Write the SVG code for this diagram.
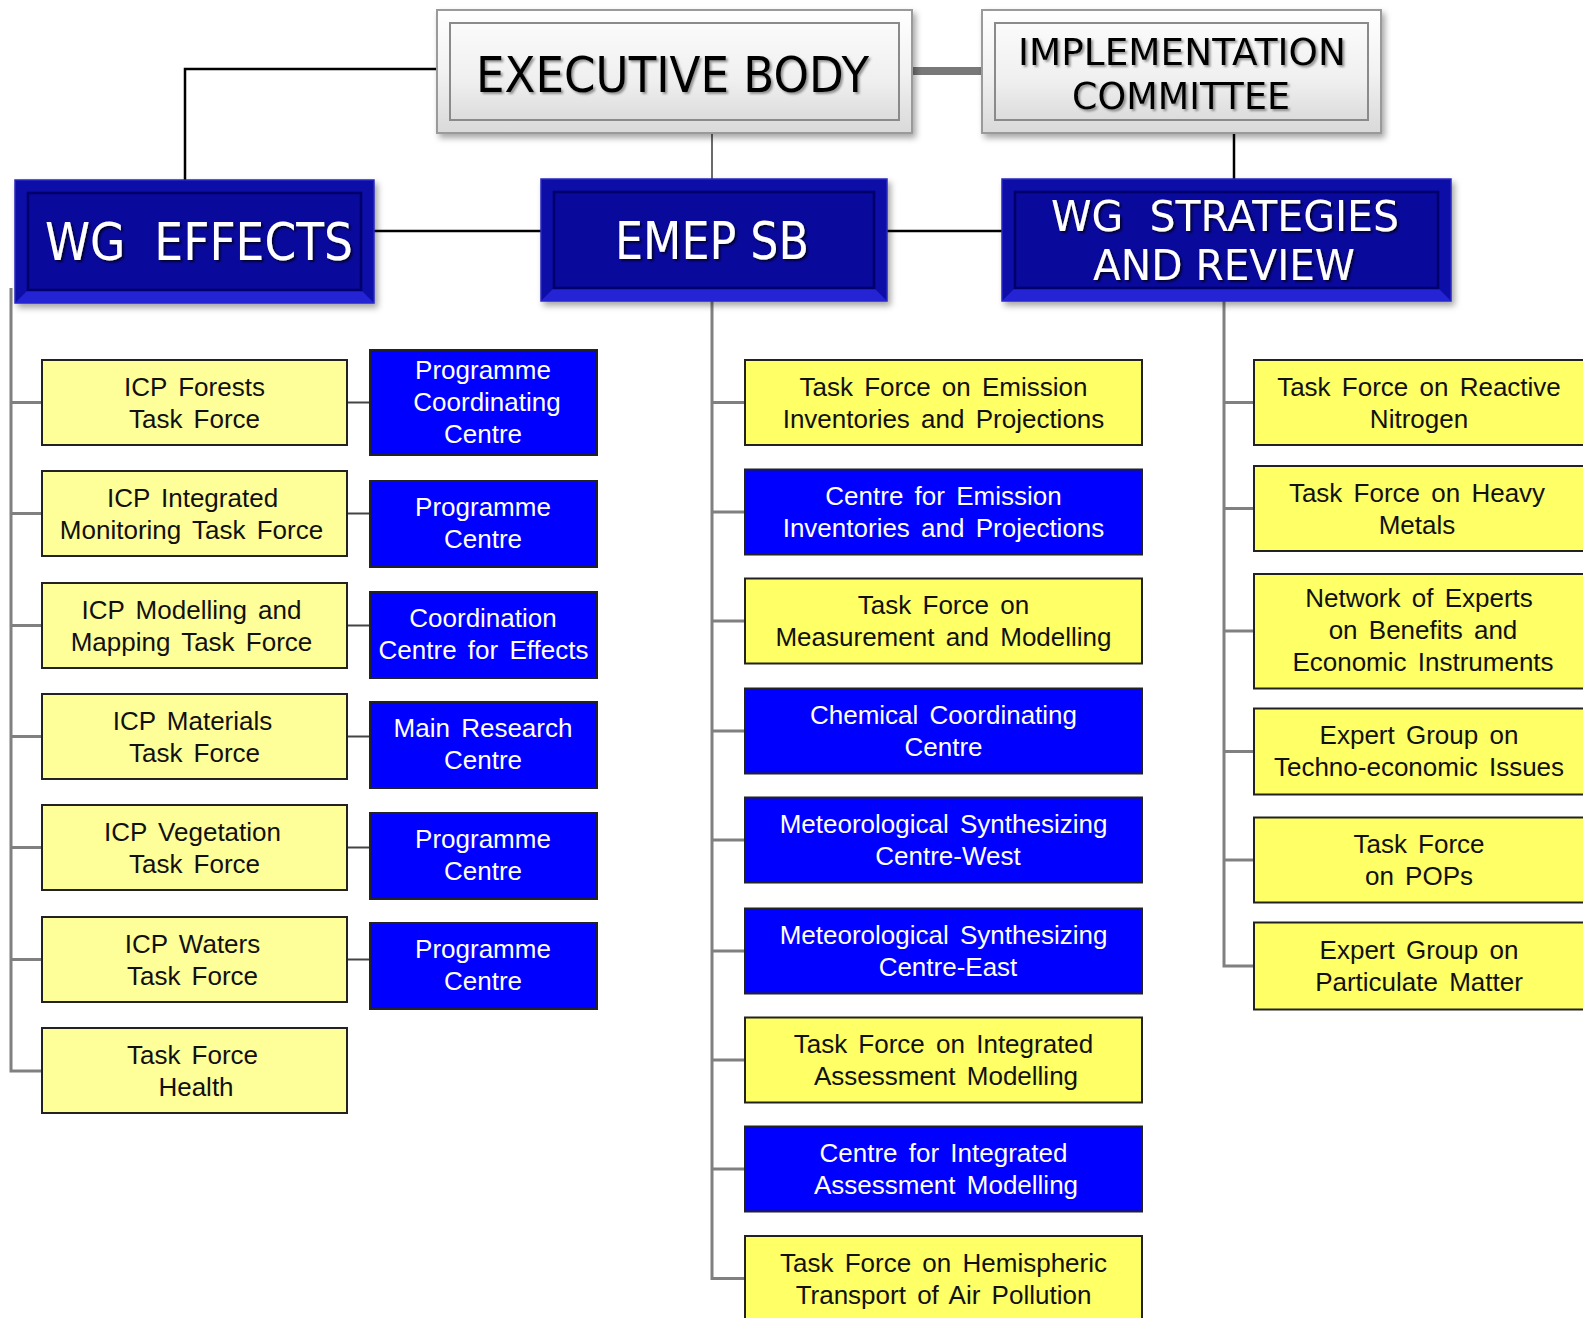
<svg xmlns="http://www.w3.org/2000/svg" width="1583" height="1318" viewBox="0 0 1583 1318">
<defs>
<linearGradient id="gGray" x1="0" y1="0" x2="0" y2="1">
<stop offset="0" stop-color="#ffffff"/><stop offset="0.5" stop-color="#f2f2f2"/><stop offset="1" stop-color="#d9d9d9"/>
</linearGradient>
<linearGradient id="gGrayIn" x1="0" y1="0" x2="0" y2="1">
<stop offset="0" stop-color="#fbfbfb"/><stop offset="0.6" stop-color="#efefef"/><stop offset="1" stop-color="#dcdcdc"/>
</linearGradient>
<filter id="shadow" x="-10%" y="-10%" width="125%" height="130%">
<feDropShadow dx="3" dy="4" stdDeviation="3" flood-color="#000" flood-opacity="0.35"/>
</filter>
<filter id="tshadowW" x="-5%" y="-20%" width="115%" height="150%">
<feDropShadow dx="2" dy="2" stdDeviation="1" flood-color="#000" flood-opacity="0.7"/>
</filter>
<filter id="tshadowB" x="-5%" y="-20%" width="115%" height="150%">
<feDropShadow dx="2" dy="2" stdDeviation="1.2" flood-color="#555" flood-opacity="0.6"/>
</filter>
</defs>
<style>
.t{font-family:"Liberation Sans",Arial,sans-serif;font-size:26px;text-anchor:middle;word-spacing:4px}
.dk{fill:#111}
.wh{fill:#fff}
.h{font-family:"DejaVu Sans",Verdana,sans-serif;}
.hw{fill:#fff;filter:url(#tshadowW)}
.hb{fill:#000;filter:url(#tshadowB)}
.y1{fill:#ffff99;stroke:#222;stroke-width:2}
.y2{fill:#ffff66;stroke:#222;stroke-width:2}
.b{fill:#0000ff;stroke:#222;stroke-width:2}
.navyO{fill:#0d0da8;stroke:#2a2ac0;stroke-width:1.5}
.navyBot{fill:#2424d4}
.navyI{fill:#09099c;stroke:#00006a;stroke-width:2.5}
.grayO{fill:url(#gGray);stroke:#9a9a9a;stroke-width:2}
.grayI{fill:url(#gGrayIn);stroke:#8a8a8a;stroke-width:2}
.cb{fill:none;stroke:#000;stroke-width:2.5}
.cg{fill:none;stroke:#808080;stroke-width:3}
.cd{fill:none;stroke:#444;stroke-width:2}
</style>

<g id="connectors">
<polyline class="cb" points="437,69 185,69 185,180"/>
<line x1="912" y1="71" x2="982" y2="71" stroke="#787878" stroke-width="8"/>
<line x1="712" y1="133" x2="712" y2="179" stroke="#6a6a6a" stroke-width="2"/>
<line class="cb" x1="1234" y1="133" x2="1234" y2="179"/>
<line class="cb" x1="374" y1="231" x2="541" y2="231"/>
<line class="cb" x1="887" y1="231" x2="1002" y2="231"/>
<polyline class="cg" points="11,288 11,1071 42,1071"/>
<line class="cg" x1="11" y1="402.5" x2="42" y2="402.5"/>
<line class="cg" x1="11" y1="513.5" x2="42" y2="513.5"/>
<line class="cg" x1="11" y1="625.5" x2="42" y2="625.5"/>
<line class="cg" x1="11" y1="736.5" x2="42" y2="736.5"/>
<line class="cg" x1="11" y1="847.5" x2="42" y2="847.5"/>
<line class="cg" x1="11" y1="959.5" x2="42" y2="959.5"/>
<line class="cd" x1="347" y1="402.5" x2="370" y2="402.5"/>
<line class="cd" x1="347" y1="513.5" x2="370" y2="513.5"/>
<line class="cd" x1="347" y1="625.5" x2="370" y2="625.5"/>
<line class="cd" x1="347" y1="736.5" x2="370" y2="736.5"/>
<line class="cd" x1="347" y1="847.5" x2="370" y2="847.5"/>
<line class="cd" x1="347" y1="959.5" x2="370" y2="959.5"/>
<polyline class="cg" points="712,301 712,1278.5 745,1278.5"/>
<line class="cg" x1="712" y1="402.5" x2="745" y2="402.5"/>
<line class="cg" x1="712" y1="512" x2="745" y2="512"/>
<line class="cg" x1="712" y1="621" x2="745" y2="621"/>
<line class="cg" x1="712" y1="731" x2="745" y2="731"/>
<line class="cg" x1="712" y1="840" x2="745" y2="840"/>
<line class="cg" x1="712" y1="951" x2="745" y2="951"/>
<line class="cg" x1="712" y1="1060" x2="745" y2="1060"/>
<line class="cg" x1="712" y1="1169" x2="745" y2="1169"/>
<polyline class="cg" points="1224,301 1224,966 1254,966"/>
<line class="cg" x1="1224" y1="402.5" x2="1254" y2="402.5"/>
<line class="cg" x1="1224" y1="508.5" x2="1254" y2="508.5"/>
<line class="cg" x1="1224" y1="631" x2="1254" y2="631"/>
<line class="cg" x1="1224" y1="751.5" x2="1254" y2="751.5"/>
<line class="cg" x1="1224" y1="860" x2="1254" y2="860"/>
</g>

<g id="executive-body">
<rect class="grayO" x="437" y="10" width="475" height="123" filter="url(#shadow)"/>
<rect class="grayI" x="450" y="23" width="449" height="97"/>
<text class="h hb" x="476" y="92" font-size="50" textLength="393" lengthAdjust="spacingAndGlyphs">EXECUTIVE BODY</text>
</g>
<g id="implementation-committee">
<rect class="grayO" x="982" y="10" width="399" height="123" filter="url(#shadow)"/>
<rect class="grayI" x="995" y="23" width="373" height="97"/>
<text class="h hb" x="1018" y="65" font-size="38" textLength="328" lengthAdjust="spacingAndGlyphs">IMPLEMENTATION</text>
<text class="h hb" x="1072" y="109" font-size="38" textLength="218" lengthAdjust="spacingAndGlyphs">COMMITTEE</text>
</g>

<g id="wg-effects">
<rect class="navyO" x="15" y="180" width="359" height="123" filter="url(#shadow)"/>
<polygon class="navyBot" points="15,303 374,303 361,290 28,290"/>
<rect class="navyI" x="28" y="193" width="333" height="97"/>
<text class="h hw" x="45" y="260" font-size="52" textLength="308" lengthAdjust="spacingAndGlyphs" xml:space="preserve">WG  EFFECTS</text>
</g>
<g id="emep-sb">
<rect class="navyO" x="541" y="179" width="346" height="122" filter="url(#shadow)"/>
<polygon class="navyBot" points="541,301 887,301 874,288 554,288"/>
<rect class="navyI" x="554" y="192" width="320" height="96"/>
<text class="h hw" x="615" y="259" font-size="52" textLength="194" lengthAdjust="spacingAndGlyphs">EMEP SB</text>
</g>
<g id="wg-strategies">
<rect class="navyO" x="1002" y="179" width="449" height="122" filter="url(#shadow)"/>
<polygon class="navyBot" points="1002,301 1451,301 1438,288 1015,288"/>
<rect class="navyI" x="1015" y="192" width="423" height="96"/>
<text class="h hw" x="1051" y="231" font-size="42" textLength="348" lengthAdjust="spacingAndGlyphs" xml:space="preserve">WG  STRATEGIES</text>
<text class="h hw" x="1093" y="280" font-size="42" textLength="262" lengthAdjust="spacingAndGlyphs">AND REVIEW</text>
</g>

<g id="icp-forests"><rect class="y1" x="42" y="360" width="305" height="85"/>
<text class="t dk" x="194.5" y="395.5">ICP  Forests</text><text class="t dk" x="194.5" y="427.5">Task Force</text></g>
<g id="icp-integrated"><rect class="y1" x="42" y="471" width="305" height="85"/>
<text class="t dk" x="192.5" y="506.5">ICP Integrated</text><text class="t dk" x="191.5" y="538.5">Monitoring Task Force</text></g>
<g id="icp-modelling"><rect class="y1" x="42" y="583" width="305" height="85"/>
<text class="t dk" x="191.5" y="618.5">ICP Modelling and</text><text class="t dk" x="191.5" y="650.5">Mapping Task Force</text></g>
<g id="icp-materials"><rect class="y1" x="42" y="694" width="305" height="85"/>
<text class="t dk" x="192.5" y="729.5">ICP Materials</text><text class="t dk" x="194.5" y="761.5">Task Force</text></g>
<g id="icp-vegetation"><rect class="y1" x="42" y="805" width="305" height="85"/>
<text class="t dk" x="192.5" y="840.5">ICP Vegetation</text><text class="t dk" x="194.5" y="872.5">Task Force</text></g>
<g id="icp-waters"><rect class="y1" x="42" y="917" width="305" height="85"/>
<text class="t dk" x="192.5" y="952.5">ICP  Waters</text><text class="t dk" x="192.5" y="984.5">Task Force</text></g>
<g id="tf-health"><rect class="y1" x="42" y="1028" width="305" height="85"/>
<text class="t dk" x="192.5" y="1063.5">Task Force</text><text class="t dk" x="196" y="1095.5">Health</text></g>

<g id="pcc-forests"><rect class="b" x="370" y="350" width="227" height="105"/>
<text class="t wh" x="483" y="378.5">Programme</text><text class="t wh" x="487" y="410.5">Coordinating</text><text class="t wh" x="483" y="442.5">Centre</text></g>
<g id="pc-integrated"><rect class="b" x="370" y="481" width="227" height="86"/>
<text class="t wh" x="483" y="515.5">Programme</text><text class="t wh" x="483" y="547.5">Centre</text></g>
<g id="cce"><rect class="b" x="370" y="592" width="227" height="86"/>
<text class="t wh" x="483" y="626.5">Coordination</text><text class="t wh" x="483.5" y="658.5">Centre for Effects</text></g>
<g id="mrc-materials"><rect class="b" x="370" y="702" width="227" height="86"/>
<text class="t wh" x="483" y="736.5">Main Research</text><text class="t wh" x="483" y="768.5">Centre</text></g>
<g id="pc-vegetation"><rect class="b" x="370" y="813" width="227" height="86"/>
<text class="t wh" x="483" y="847.5">Programme</text><text class="t wh" x="483" y="879.5">Centre</text></g>
<g id="pc-waters"><rect class="b" x="370" y="923" width="227" height="86"/>
<text class="t wh" x="483" y="957.5">Programme</text><text class="t wh" x="483" y="989.5">Centre</text></g>

<g id="tfeip"><rect class="y2" x="745" y="360" width="397" height="85"/>
<text class="t dk" x="943.5" y="395.5">Task  Force on  Emission</text><text class="t dk" x="943.5" y="427.5">Inventories  and  Projections</text></g>
<g id="ceip"><rect class="b" x="745" y="469.5" width="397" height="85"/>
<text class="t wh" x="943.5" y="505">Centre  for Emission</text><text class="t wh" x="943.5" y="537">Inventories  and  Projections</text></g>
<g id="tfmm"><rect class="y2" x="745" y="578.5" width="397" height="85"/>
<text class="t dk" x="943.5" y="614">Task Force on</text><text class="t dk" x="943.5" y="646">Measurement  and Modelling</text></g>
<g id="ccc"><rect class="b" x="745" y="688.5" width="397" height="85"/>
<text class="t wh" x="943.5" y="724">Chemical Coordinating</text><text class="t wh" x="943.5" y="756">Centre</text></g>
<g id="msc-w"><rect class="b" x="745" y="797.5" width="397" height="85"/>
<text class="t wh" x="943.5" y="833">Meteorological  Synthesizing</text><text class="t wh" x="948" y="865">Centre-West</text></g>
<g id="msc-e"><rect class="b" x="745" y="908.5" width="397" height="85"/>
<text class="t wh" x="943.5" y="944">Meteorological  Synthesizing</text><text class="t wh" x="948" y="976">Centre-East</text></g>
<g id="tfiam"><rect class="y2" x="745" y="1017.5" width="397" height="85"/>
<text class="t dk" x="943.5" y="1053">Task Force on Integrated</text><text class="t dk" x="946" y="1085">Assessment  Modelling</text></g>
<g id="ciam"><rect class="b" x="745" y="1126.5" width="397" height="85"/>
<text class="t wh" x="943.5" y="1162">Centre for Integrated</text><text class="t wh" x="946" y="1194">Assessment  Modelling</text></g>
<g id="tfhtap"><rect class="y2" x="745" y="1236" width="397" height="90"/>
<text class="t dk" x="943.5" y="1271.5">Task Force on Hemispheric</text><text class="t dk" x="943.5" y="1303.5">Transport of Air Pollution</text></g>

<g id="tfrn"><rect class="y2" x="1254" y="360" width="340" height="85"/>
<text class="t dk" x="1419" y="395.5">Task Force on Reactive</text><text class="t dk" x="1419" y="427.5">Nitrogen</text></g>
<g id="tfhm"><rect class="y2" x="1254" y="466" width="340" height="85"/>
<text class="t dk" x="1417" y="501.5">Task Force on Heavy</text><text class="t dk" x="1417" y="533.5">Metals</text></g>
<g id="nebei"><rect class="y2" x="1254" y="574" width="340" height="114.5"/>
<text class="t dk" x="1419" y="607">Network of Experts</text><text class="t dk" x="1423" y="639">on Benefits and</text><text class="t dk" x="1423" y="671">Economic Instruments</text></g>
<g id="egtei"><rect class="y2" x="1254" y="708.5" width="340" height="86"/>
<text class="t dk" x="1419" y="744">Expert Group on</text><text class="t dk" x="1419" y="776">Techno-economic  Issues</text></g>
<g id="tfpops"><rect class="y2" x="1254" y="817.5" width="340" height="85"/>
<text class="t dk" x="1419" y="853">Task Force</text><text class="t dk" x="1419" y="885">on POPs</text></g>
<g id="egpm"><rect class="y2" x="1254" y="922.5" width="340" height="87"/>
<text class="t dk" x="1419" y="958.5">Expert Group on</text><text class="t dk" x="1419" y="990.5">Particulate Matter</text></g>
</svg>
